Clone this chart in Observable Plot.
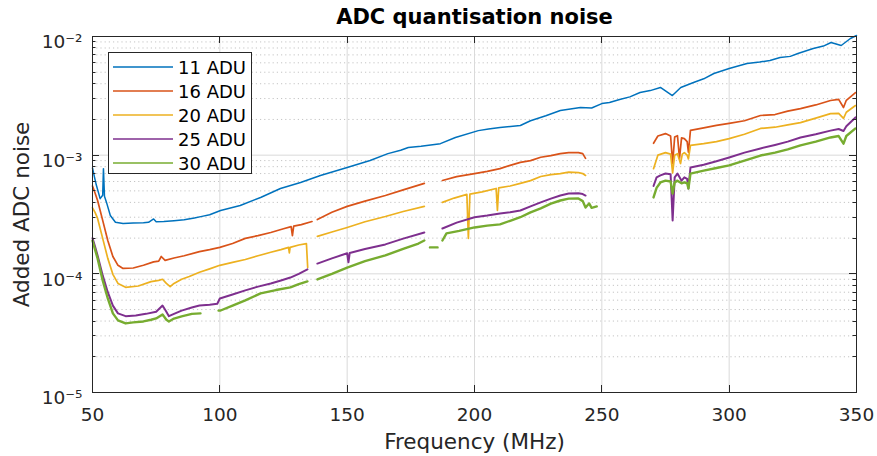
<!DOCTYPE html>
<html><head><meta charset="utf-8">
<script src="https://cdn.jsdelivr.net/npm/d3@7"></script>
<script src="https://cdn.jsdelivr.net/npm/@observablehq/plot@0.6"></script>
<style>
body{margin:0;background:#fff;font-family:"DejaVu Sans",sans-serif;}
#wrap{position:relative;width:877px;height:456px;overflow:hidden;}
#legend{position:absolute;left:108px;top:52px;width:144px;height:122px;border:1px solid #262626;background:#fff;box-sizing:border-box;}
.entry{position:absolute;left:0;height:24px;display:flex;align-items:center;font-size:18px;color:#000;white-space:nowrap;}
.entry svg{margin-left:4px;margin-right:5px;}
</style></head><body>
<div id="wrap"><div id="chart"></div><div id="legend"></div></div>
<script>
const titleText = "ADC quantisation noise";
const xLabelText = "Frequency (MHz)";
const yLabelText = "Added ADC noise";
const seriesNames = ["11 ADU","16 ADU","20 ADU","25 ADU","30 ADU"];
const seriesColors = ["#0072BD","#D95319","#EDB120","#7E2F8E","#77AC30"];
const xTicks = [50,100,150,200,250,300,350];
const yMajorTicks = [1e-5,1e-4,1e-3,1e-2];
const yTickLabels = ["10\u207B\u2075","10\u207B\u2074","10\u207B\u00B3","10\u207B\u00B2"];
const yMinorTicks = [2e-5,3e-5,4e-5,5e-5,6e-5,7e-5,8e-5,9e-5,2e-4,3e-4,4e-4,5e-4,6e-4,7e-4,8e-4,9e-4,2e-3,3e-3,4e-3,5e-3,6e-3,7e-3,8e-3,9e-3];

// 11 ADU
const freq11 = [50,50.8,51.5,53,54,54.3,54.7,55.5,57,59,62,66,70,72,74,75,78,82,86,90,93,96,100.3,108,116,123.8,131.7,139.5,150,159,166,171,174,179,186.6,192.5,201.5,205.5,210,218,222,228,233.7,241.6,246,250,253,257,261,265,269,273,277.7,281,286,290,294,300,307,312,316,320,324,327,333,337,340,344,347.6,350];
const noise11 = [7.8e-4,6.5e-4,5.6e-4,4.3e-4,4.6e-4,7.7e-4,4.5e-4,4.0e-4,3.1e-4,2.72e-4,2.66e-4,2.68e-4,2.7e-4,2.72e-4,2.9e-4,2.75e-4,2.76e-4,2.8e-4,2.85e-4,2.95e-4,3.05e-4,3.15e-4,3.42e-4,3.77e-4,4.4e-4,5.24e-4,5.89e-4,6.75e-4,7.87e-4,9.02e-4,1.03e-3,1.1e-3,1.16e-3,1.19e-3,1.25e-3,1.41e-3,1.61e-3,1.66e-3,1.71e-3,1.78e-3,1.95e-3,2.15e-3,2.38e-3,2.52e-3,2.5e-3,2.72e-3,2.78e-3,2.95e-3,3.1e-3,3.37e-3,3.5e-3,3.72e-3,3.18e-3,3.72e-3,4.1e-3,4.4e-3,4.88e-3,5.37e-3,5.92e-3,6.1e-3,6.28e-3,6.65e-3,6.8e-3,7.19e-3,7.92e-3,8.3e-3,8.9e-3,8.4e-3,9.62e-3,1.02e-2];

// 16 ADU
const freq16 = [50,51,52,54,56,58,60,62,66,70,74,76,77,78.5,82,86,92,96,100,105,110,115,120,125,128,128.5,129,132,136.2,137,138.3,144,150,157,165,172,180.3,183,187.4,193,200,205,210,214,218,222,226,230,233.7,237,240.8,242.5,243.6,255,270.3,272,275,277,277.8,278.6,279.7,280.5,281.3,282.4,283.5,284,284.8,290,295,300,306,312.3,318,323,328,334,339.8,343,344.9,346,349.6];
const noise16 = [5.5e-4,4.8e-4,4.15e-4,2.82e-4,1.91e-4,1.4e-4,1.18e-4,1.11e-4,1.12e-4,1.18e-4,1.26e-4,1.28e-4,1.4e-4,1.3e-4,1.36e-4,1.42e-4,1.54e-4,1.6e-4,1.67e-4,1.8e-4,1.99e-4,2.1e-4,2.23e-4,2.4e-4,2.5e-4,2.1e-4,2.52e-4,2.6e-4,2.76e-4,null,2.87e-4,3.3e-4,3.7e-4,4.1e-4,4.57e-4,5.1e-4,5.78e-4,null,6.12e-4,6.6e-4,7.0e-4,7.3e-4,7.7e-4,8.2e-4,8.7e-4,9.0e-4,9.6e-4,9.9e-4,1.03e-3,1.05e-3,1.05e-3,1.03e-3,9.4e-4,null,1.26e-3,1.45e-3,1.52e-3,1.45e-3,8.5e-4,1.42e-3,1.46e-3,9.4e-4,1.4e-3,1.38e-3,1.3e-3,1.06e-3,1.62e-3,1.7e-3,1.78e-3,1.85e-3,1.95e-3,2.16e-3,2.2e-3,2.35e-3,2.47e-3,2.65e-3,2.89e-3,2.95e-3,2.52e-3,2.9e-3,3.37e-3];

// 20 ADU
const freq20 = [50,51,52,54,56,58,60,63,68,73,76,77.5,79,80.5,82,85,88,92,96,100,105,110,115,120,124,127,127.3,127.6,131,134,134.5,136.3,138.3,144,150,157,165,172,180.3,184,187.4,192,197,197.6,198.2,203,208.5,209,209.5,214,218,222,226,230,233.7,237,240.8,242.5,243.6,255,270.3,272,275,277,277.8,278.6,279.7,280.9,281.6,282.4,283.5,284,284.8,290,295,300,306,312.3,318,323,328,334,339.8,343,344.9,346,349.6];
const noise20 = [3.6e-4,3.3e-4,2.93e-4,1.99e-4,1.35e-4,9.9e-5,8.3e-5,7.7e-5,7.9e-5,8.6e-5,8.8e-5,9.0e-5,8.3e-5,7.8e-5,8.3e-5,9.0e-5,9.5e-5,1.03e-4,1.1e-4,1.18e-4,1.25e-4,1.32e-4,1.42e-4,1.52e-4,1.6e-4,1.67e-4,1.5e-4,1.67e-4,1.75e-4,1.8e-4,1.13e-4,null,2.07e-4,2.25e-4,2.46e-4,2.75e-4,3.04e-4,3.35e-4,3.7e-4,null,4.0e-4,4.35e-4,4.67e-4,1.99e-4,4.7e-4,4.9e-4,5.24e-4,3.42e-4,5.3e-4,5.5e-4,5.78e-4,6.1e-4,6.61e-4,6.85e-4,7.0e-4,7.2e-4,7.14e-4,7.0e-4,6.75e-4,null,7.7e-4,1.0e-3,1.05e-3,1.02e-3,7.1e-4,1.0e-3,1.03e-3,8.5e-4,1.02e-3,1.05e-3,1.0e-3,9.3e-4,1.21e-3,1.25e-3,1.3e-3,1.38e-3,1.5e-3,1.68e-3,1.72e-3,1.8e-3,1.88e-3,2.05e-3,2.24e-3,2.25e-3,2.04e-3,2.3e-3,2.62e-3];

// 25 ADU
const freq25 = [50,51,52,54,56,58,60,63,67,71,75,77.5,79,80,82,85,89,92,96,99,100,105,110,115,120,124,127.7,131,134.4,136.3,138.3,144,150,150.5,151,157,165,172,180.3,184,187.4,193,200,205,210,214,218,222,226,230,233.7,237,240.8,242.5,243.6,255,270.3,271.5,273,275,277,277.8,278.6,279.7,281.3,282.4,283.5,284,284.8,290,295,300,306,312.3,318,323,328,334,339.8,343,344.9,346,349.6];
const noise25 = [2.0e-4,1.7e-4,1.43e-4,9.7e-5,7.0e-5,5.4e-5,4.64e-5,4.4e-5,4.45e-5,4.6e-5,4.8e-5,5.4e-5,4.8e-5,4.4e-5,4.6e-5,4.9e-5,5.2e-5,5.4e-5,5.5e-5,5.6e-5,6.2e-5,6.7e-5,7.25e-5,7.8e-5,8.3e-5,8.8e-5,9.3e-5,1.0e-4,1.09e-4,null,1.22e-4,1.35e-4,1.49e-4,1.25e-4,1.5e-4,1.62e-4,1.77e-4,1.98e-4,2.23e-4,null,2.41e-4,2.7e-4,3.0e-4,3.1e-4,3.23e-4,3.3e-4,3.42e-4,3.7e-4,4.0e-4,4.3e-4,4.57e-4,4.75e-4,4.77e-4,4.7e-4,4.57e-4,null,5.5e-4,6.5e-4,6.75e-4,7.0e-4,6.9e-4,2.82e-4,6.5e-4,7.0e-4,6.1e-4,6.5e-4,6.3e-4,5.24e-4,7.87e-4,8.3e-4,8.9e-4,9.57e-4,1.05e-3,1.14e-3,1.22e-3,1.3e-3,1.41e-3,1.5e-3,1.61e-3,1.66e-3,1.6e-3,1.75e-3,2.08e-3];

// 30 ADU
const freq30 = [50,51,52,54,56,58,60,63,66,70,73,75,77.5,79,80,82,85,89,92.4,93.5,99.5,100.3,105,110,116,122,127.7,131,134.4,136.3,138.3,144,150,157,165,172,178,180.3,181.5,182.5,185.5,186.5,187.4,189,194,200,205,210,214,218,222,226,230,233.7,237,240.8,242.5,243.6,245,246,248,255,270.3,271.5,273,275,277,277.8,278.6,279.7,281.3,282.4,283.5,284,284.8,290,295,300,306,312.3,318,323,328,334,339.8,343,344.9,346,349.6];
const noise30 = [1.9e-4,1.6e-4,1.35e-4,8.8e-5,6.2e-5,4.64e-5,4.05e-5,3.82e-5,3.9e-5,3.97e-5,4.1e-5,4.21e-5,4.55e-5,4.1e-5,3.97e-5,4.2e-5,4.38e-5,4.6e-5,4.64e-5,null,4.9e-5,4.91e-5,5.4e-5,5.97e-5,6.84e-5,7.3e-5,7.68e-5,8.2e-5,8.63e-5,null,8.97e-5,1.0e-4,1.13e-4,1.28e-4,1.43e-4,1.62e-4,1.8e-4,1.91e-4,null,1.67e-4,1.67e-4,null,1.91e-4,2.19e-4,2.3e-4,2.46e-4,2.55e-4,2.61e-4,2.8e-4,3.0e-4,3.3e-4,3.56e-4,3.9e-4,4.15e-4,4.3e-4,4.31e-4,4.1e-4,3.62e-4,3.92e-4,3.6e-4,3.7e-4,null,4.4e-4,5.3e-4,5.89e-4,6.1e-4,6.0e-4,4.75e-4,5.9e-4,6.1e-4,5.8e-4,5.9e-4,5.8e-4,5.24e-4,7.0e-4,7.4e-4,7.8e-4,8.2e-4,9.0e-4,9.93e-4,1.05e-3,1.12e-3,1.21e-3,1.3e-3,1.41e-3,1.45e-3,1.25e-3,1.45e-3,1.68e-3];

const freqs = [freq11, freq16, freq20, freq25, freq30];
const noises = [noise11, noise16, noise20, noise25, noise30];
const widths = [1.5, 1.7, 1.7, 2.0, 2.4];

const rows = [];
seriesNames.forEach((s, i) => freqs[i].forEach((f, j) => rows.push({s, f, v: noises[i][j]})));

const ink = "#262626";
const lineMarks = seriesNames.map((s, i) =>
  Plot.line(rows.filter(d => d.s === s), {x: "f", y: "v", stroke: seriesColors[i], strokeWidth: widths[i], curve: "linear"})
);

const chart = Plot.plot({
  width: 877, height: 456,
  marginLeft: 92, marginRight: 21, marginTop: 36, marginBottom: 64,
  style: {fontFamily: "DejaVu Sans, sans-serif", fontSize: "18.5px", color: ink, background: "white", overflow: "visible"},
  x: {domain: [50, 350], axis: null},
  y: {type: "log", domain: [1e-5, 1e-2], axis: null},
  marks: [
    Plot.ruleY(yMinorTicks, {stroke: "#c4c4c4", strokeDasharray: "1.2,3"}),
    Plot.ruleX(xTicks, {stroke: "#dadada"}),
    Plot.ruleY(yMajorTicks, {stroke: "#dadada"}),
    ...lineMarks,
    Plot.frame({stroke: ink, strokeWidth: 1}),
    Plot.text(xTicks, {x: d => d, frameAnchor: "bottom", lineAnchor: "middle", textAnchor: "middle", dy: 23, text: d => String(d), fill: ink, fontSize: 18.5}),
    Plot.text(yMajorTicks, {y: d => d, frameAnchor: "left", lineAnchor: "middle", dx: -10, dy: 6, textAnchor: "end", text: (d, i) => yTickLabels[i], fill: ink, fontSize: 18.5}),
    Plot.text([titleText], {text: d => d, frameAnchor: "top", lineAnchor: "middle", textAnchor: "middle", dy: -19, fontWeight: "bold", fontSize: 21, fill: "#000"}),
    Plot.text([xLabelText], {text: d => d, frameAnchor: "bottom", lineAnchor: "middle", textAnchor: "middle", dy: 50, fontSize: 21.5, fill: ink}),
    Plot.text([yLabelText], {text: d => d, frameAnchor: "left", lineAnchor: "middle", textAnchor: "middle", dx: -70, rotate: -90, fontSize: 21.5, fill: ink})
  ]
});
document.getElementById("chart").appendChild(chart);

// inward ticks (box style) via the plot's own scales
const sx = chart.scale("x"), sy = chart.scale("y");
const L = sx.apply(50), R = sx.apply(350), B = sy.apply(1e-5), T = sy.apply(1e-2);
const g = d3.select(chart).append("g").attr("stroke", ink).attr("stroke-width", 1);
xTicks.forEach(v => {
  const x = Math.round(sx.apply(v)) + 0.5;
  g.append("line").attr("x1", x).attr("x2", x).attr("y1", B).attr("y2", B - 7);
  g.append("line").attr("x1", x).attr("x2", x).attr("y1", T).attr("y2", T + 7);
});
yMajorTicks.forEach(v => {
  const y = Math.round(sy.apply(v)) + 0.5;
  g.append("line").attr("x1", L).attr("x2", L + 7).attr("y1", y).attr("y2", y);
  g.append("line").attr("x1", R).attr("x2", R - 7).attr("y1", y).attr("y2", y);
});
yMinorTicks.forEach(v => {
  const y = Math.round(sy.apply(v)) + 0.5;
  g.append("line").attr("x1", L).attr("x2", L + 3.5).attr("y1", y).attr("y2", y);
  g.append("line").attr("x1", R).attr("x2", R - 3.5).attr("y1", y).attr("y2", y);
});

// legend
const leg = document.getElementById("legend");
seriesNames.forEach((s, i) => {
  const e = document.createElement("div");
  e.className = "entry";
  e.style.top = (2 + i * 24) + "px";
  const svgNS = "http://www.w3.org/2000/svg";
  const sw = document.createElementNS(svgNS, "svg");
  sw.setAttribute("width", "60"); sw.setAttribute("height", "4");
  const ln = document.createElementNS(svgNS, "line");
  ln.setAttribute("x1", "0"); ln.setAttribute("x2", "60");
  ln.setAttribute("y1", "2"); ln.setAttribute("y2", "2");
  ln.setAttribute("stroke", seriesColors[i]); ln.setAttribute("stroke-width", "1.5");
  sw.appendChild(ln);
  const t = document.createElement("span");
  t.textContent = s;
  e.appendChild(sw); e.appendChild(t);
  leg.appendChild(e);
});
</script>
</body></html>
